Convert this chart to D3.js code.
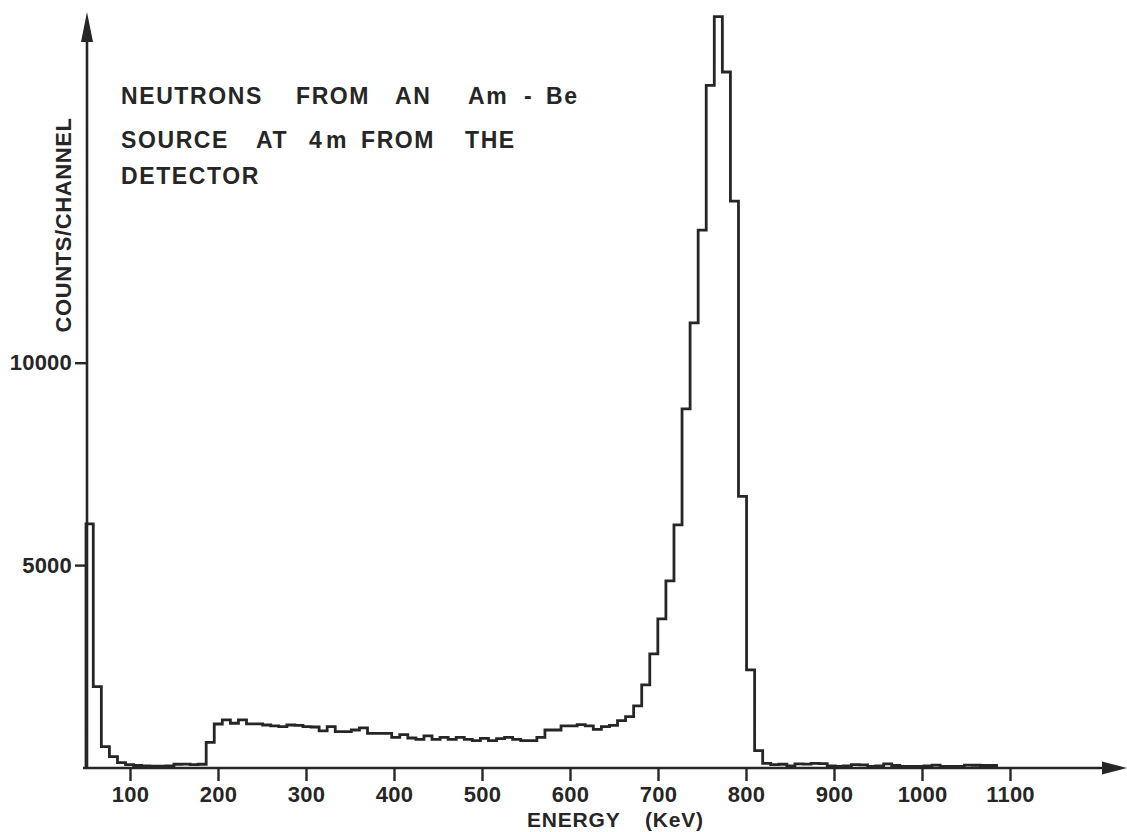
<!DOCTYPE html>
<html>
<head>
<meta charset="utf-8">
<script src="https://cdn.jsdelivr.net/npm/d3@7"></script>
<style>
  html, body { margin: 0; padding: 0; background: #fff; }
  svg { display: block; }
  text { font-family: "Liberation Sans", Arial, Helvetica, sans-serif; fill: #262626; }
</style>
</head>
<body>
<svg id="chart" width="1127" height="832"></svg>
<script>
// ---- data ----
const binStartKeV = 49.1;      // left edge of first channel (keV)
const binWidthKeV = 9.165;     // channel width (keV)
const counts = [
  6020, 2000, 515, 267, 120, 70, 50, 40, 35, 35,
  40, 80, 85, 70, 80, 623, 1075, 1175, 1093, 1175,
  1076, 1076, 1050, 1030, 1009, 1050, 1040, 1010, 1000, 903,
  1010, 886, 886, 927, 977, 845, 845, 845, 746, 812,
  729, 696, 779, 696, 746, 696, 746, 696, 663, 721,
  663, 713, 746, 696, 663, 663, 746, 927, 927, 1026,
  1026, 1059, 1026, 944, 1010, 1043, 1158, 1257, 1521, 2040,
  2807, 3672, 4611, 5996, 8857, 10984, 13274, 16852, 18551, 17181,
  13991, 6696, 2411, 415, 104, 70, 80, 40, 90, 85,
  100, 95, 40, 30, 40, 70, 65, 30, 40, 90,
  50, 25, 25, 30, 40, 60, 30, 25, 30, 60,
  55, 50, 50
];
const xTicks = [100, 200, 300, 400, 500, 600, 700, 800, 900, 1000, 1100];
const yTicks = [5000, 10000];
const titleWords = [
  ["NEUTRONS", "FROM", "AN", "Am", "-", "Be"],
  ["SOURCE", "AT", "4", "m", "FROM", "THE"],
  ["DETECTOR"]
];
const xLabelWords = ["ENERGY", "(KeV)"];
const yLabel = "COUNTS/CHANNEL";

// ---- layout ----
const svg = d3.select("#chart");
const ink = "#262626";
const xAxisY = 768;
const yAxisX = 86;

const x = d3.scaleLinear().domain([100, 1100]).range([130, 1010]);
const xMin = x.invert(yAxisX);
const y = d3.scaleLinear().domain([0, 10000]).range([767.5, 362.7]);

// histogram step path
const pts = [[xMin, 0]];
counts.forEach((c, i) => {
  const left = Math.max(binStartKeV + i * binWidthKeV, xMin);
  pts.push([left, c]);
});
const endE = binStartKeV + counts.length * binWidthKeV;
pts.push([endE, counts[counts.length - 1]]);
pts.push([endE, 0]);

const line = d3.line()
  .x(d => x(d[0]))
  .y(d => y(d[1]))
  .curve(d3.curveStepAfter);

svg.append("path")
  .attr("d", line(pts))
  .attr("fill", "none")
  .attr("stroke", ink)
  .attr("stroke-width", 2.8)
  .attr("stroke-linejoin", "miter");

// axes lines with arrowheads
svg.append("line")
  .attr("x1", yAxisX - 3).attr("x2", 1110)
  .attr("y1", xAxisY).attr("y2", xAxisY)
  .attr("stroke", ink).attr("stroke-width", 2.6);
svg.append("path")
  .attr("d", `M1127,${xAxisY} L1102,${xAxisY - 6.5} L1102,${xAxisY + 6.5} Z`)
  .attr("fill", ink);

svg.append("line")
  .attr("x1", yAxisX + 1).attr("x2", yAxisX + 1)
  .attr("y1", xAxisY + 1).attr("y2", 30)
  .attr("stroke", ink).attr("stroke-width", 2.6);
svg.append("path")
  .attr("d", `M${yAxisX + 1},12 L${yAxisX - 5},42 L${yAxisX + 7},42 Z`)
  .attr("fill", ink);

const tickFont = sel => sel
  .attr("fill", ink)
  .style("font-family", '"Liberation Sans", Arial, sans-serif')
  .style("font-size", "22px")
  .style("font-weight", "bold")
  .style("letter-spacing", "0.2px");

// x axis ticks
const gx = svg.append("g")
  .attr("transform", `translate(0,${xAxisY})`)
  .call(d3.axisBottom(x).tickValues(xTicks).tickSize(13).tickPadding(5).tickFormat(d3.format("d")));
gx.select(".domain").remove();
gx.selectAll(".tick line").attr("stroke", ink).attr("stroke-width", 2.4);
gx.selectAll(".tick text").call(tickFont);

// y axis ticks
const gy = svg.append("g")
  .attr("transform", `translate(${yAxisX},0)`)
  .call(d3.axisLeft(y).tickValues(yTicks).tickSize(11).tickPadding(3).tickFormat(d3.format("d")));
gy.select(".domain").remove();
gy.selectAll(".tick line").attr("stroke", ink).attr("stroke-width", 2.4);
gy.selectAll(".tick text").call(tickFont);

// x axis title
const xLabelX = [527, 645];
const xl = svg.append("text")
  .attr("y", 827)
  .style("font-size", "21px")
  .style("font-weight", "bold")
  .style("letter-spacing", "0.8px");
xLabelWords.forEach((w, i) => xl.append("tspan").attr("x", xLabelX[i]).text(w));

// y axis title
svg.append("text")
  .attr("transform", "translate(70.5,225) rotate(-90)")
  .attr("text-anchor", "middle")
  .style("font-size", "22px")
  .style("font-weight", "bold")
  .style("letter-spacing", "0.6px")
  .text(yLabel);

// annotation block
const lineY = [104, 148, 184];
const wordX = [
  [121, 296, 395, 468, 524, 546],
  [121, 256, 309, 326, 361, 465],
  [121]
];
titleWords.forEach((words, i) => {
  const t = svg.append("text")
    .attr("y", lineY[i])
    .style("font-size", "23px")
    .style("font-weight", "bold")
    .style("letter-spacing", "1.6px");
  words.forEach((w, j) => t.append("tspan").attr("x", wordX[i][j]).text(w));
});
</script>
</body>
</html>
